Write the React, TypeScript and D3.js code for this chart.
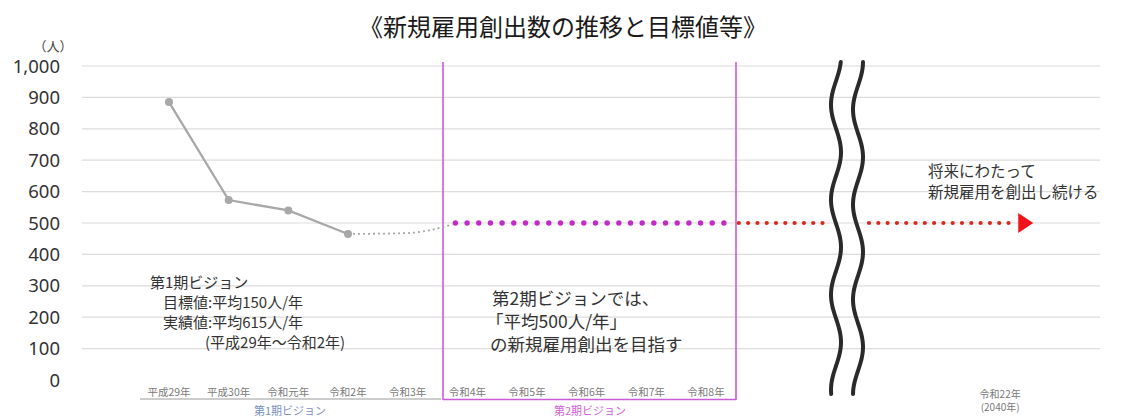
import React, { useEffect, useRef } from 'react';
import * as d3 from 'd3';

const categories = ['平成29年', '平成30年', '令和元年', '令和2年', '令和3年', '令和4年', '令和5年', '令和6年', '令和7年', '令和8年'];
const actualValues = [885, 573, 540, 465];
// gray dotted bridge from last actual towards target (index, value)
const bridgeIdx = [3, 4, 4.75];
const bridgeValues = [465, 468, 495];
const targetValue = 500;
const targetRange = [4.8, 9.3];
const futureRange = [9.55, 14.2];
const futureLabel = ['令和22年', '(2040年)'];
const futureIdx = 13.93;
const yTicks = [0, 100, 200, 300, 400, 500, 600, 700, 800, 900, 1000];
const phase1Notes = ['第1期ビジョン', '目標値:平均150人/年', '実績値:平均615人/年', '(平成29年～令和2年)'];
const phase2Notes = ['第2期ビジョンでは、', '「平均500人/年」', 'の新規雇用創出を目指す'];
const futureNotes = ['将来にわたって', '新規雇用を創出し続ける'];

const W = 1125;
const H = 420;
const JP = '"Noto Sans CJK JP", "Noto Sans", sans-serif';

export default function App() {
  const ref = useRef<SVGSVGElement>(null);

  useEffect(() => {
    document.body.style.margin = '0';
    if (!ref.current) return;
    const svg = d3.select(ref.current);
    svg.selectAll('*').remove();

    const x = d3.scaleLinear().domain([0, 9]).range([169, 706]);
    const y = d3.scaleLinear().domain([0, 1000]).range([380, 66]);
    const gridL = 82;
    const gridR = 1100;

    // title
    svg.append('text').attr('x', 563).attr('y', 36).attr('text-anchor', 'middle')
      .attr('font-family', JP).attr('font-size', 24).attr('fill', '#1a1a1a')
      .text('《新規雇用創出数の推移と目標値等》');

    // gridlines
    svg.append('g').selectAll('line').data(yTicks.filter(d => d > 0)).join('line')
      .attr('x1', gridL).attr('x2', gridR)
      .attr('y1', d => y(d)).attr('y2', d => y(d))
      .attr('stroke', '#dcdcdc').attr('stroke-width', 1.2);

    // y tick labels
    svg.append('g').selectAll('text').data(yTicks).join('text')
      .attr('x', 60).attr('y', d => y(d) + 6.5).attr('text-anchor', 'end')
      .attr('font-family', '"Noto Sans", sans-serif').attr('font-size', 18.5).attr('fill', '#333')
      .text(d => d3.format(',')(d));

    svg.append('text').attr('x', 53).attr('y', 51).attr('text-anchor', 'middle')
      .attr('font-family', JP).attr('font-size', 13).attr('fill', '#444').text('（人）');

    // phase boundary lines
    const p2L = 443, p2R = 736;
    [p2L, p2R].forEach(px => {
      svg.append('line').attr('x1', px).attr('x2', px).attr('y1', 62).attr('y2', 400)
        .attr('stroke', '#c95bd6').attr('stroke-width', 1.6);
    });

    // category labels
    svg.append('g').selectAll('text').data(categories).join('text')
      .attr('x', (d, i) => x(i)).attr('y', 396).attr('text-anchor', 'middle')
      .attr('font-family', JP).attr('font-size', 10.5).attr('fill', '#7a7a7a')
      .text(d => d);

    // underlines
    svg.append('line').attr('x1', 140).attr('x2', p2L - 2).attr('y1', 399).attr('y2', 399)
      .attr('stroke', '#9a9a9a').attr('stroke-width', 1);
    svg.append('line').attr('x1', p2L).attr('x2', p2R).attr('y1', 399.5).attr('y2', 399.5)
      .attr('stroke', '#c95bd6').attr('stroke-width', 1.5);
    svg.append('text').attr('x', 290).attr('y', 415).attr('text-anchor', 'middle')
      .attr('font-family', JP).attr('font-size', 11).attr('fill', '#7890c0').text('第1期ビジョン');
    svg.append('text').attr('x', 590).attr('y', 415).attr('text-anchor', 'middle')
      .attr('font-family', JP).attr('font-size', 11).attr('fill', '#d060d8').text('第2期ビジョン');

    svg.append('g').selectAll('text').data(futureLabel).join('text')
      .attr('x', x(futureIdx)).attr('y', (d, i) => 398 + i * 13).attr('text-anchor', 'middle')
      .attr('font-family', JP).attr('font-size', 10).attr('fill', '#7a7a7a').text(d => d);

    // actual line
    const line = d3.line<number>().x((d, i) => x(i)).y(d => y(d));
    svg.append('path').datum(actualValues).attr('d', line)
      .attr('fill', 'none').attr('stroke', '#a8a8a8').attr('stroke-width', 2.3);
    svg.append('g').selectAll('circle').data(actualValues).join('circle')
      .attr('cx', (d, i) => x(i)).attr('cy', d => y(d)).attr('r', 4).attr('fill', '#a8a8a8');

    // bridge dotted
    const bridgeLine = d3.line<number>().x((d, i) => x(bridgeIdx[i])).y(d => y(d)).curve(d3.curveMonotoneX);
    svg.append('path').datum(bridgeValues).attr('d', bridgeLine)
      .attr('fill', 'none').attr('stroke', '#a8a8a8').attr('stroke-width', 1.8)
      .attr('stroke-dasharray', '2,3');

    // target purple dots
    const tx0 = x(targetRange[0]), tx1 = x(targetRange[1]);
    const nT = 24;
    svg.append('g').selectAll('circle').data(d3.range(nT)).join('circle')
      .attr('cx', i => tx0 + (tx1 - tx0) * i / (nT - 1)).attr('cy', y(targetValue))
      .attr('r', 2.7).attr('fill', '#c12cc8');

    // future red dots
    const fx0 = x(futureRange[0]), fx1 = x(futureRange[1]);
    const stepF = 9.3;
    const fDots = d3.range(fx0, fx1, stepF).filter(px => px < 826 || px > 866);
    svg.append('g').selectAll('circle').data(fDots).join('circle')
      .attr('cx', d => d).attr('cy', y(targetValue)).attr('r', 2.1).attr('fill', '#d42a1e');
    const ty = y(targetValue);
    svg.append('path')
      .attr('d', `M${fx1 + 2},${ty - 10} L${fx1 + 17},${ty} L${fx1 + 2},${ty + 10} Z`)
      .attr('fill', '#f0141a');

    // wavy break lines
    const wave = (cx: number, phase: number) => {
      const pts: [number, number][] = d3.range(62, 396, 2).map(py => [
        cx + 5 * Math.sin(((py - 62) / 95) * 2 * Math.PI + phase), py,
      ]);
      return d3.line().curve(d3.curveBasis)(pts) as string;
    };
    [[836, Math.PI * 0.6], [858, Math.PI * 0.5]].forEach(([cx, ph]) => {
      svg.append('path').attr('d', wave(cx, ph)).attr('fill', 'none')
        .attr('stroke', '#2a2a2a').attr('stroke-width', 4).attr('stroke-linecap', 'round');
    });

    // annotations
    const note = (lines: string[], xs: number[], y0: number, dy: number, fs: number) => {
      svg.append('g').selectAll('text').data(lines).join('text')
        .attr('x', (d, i) => xs[i]).attr('y', (d, i) => y0 + i * dy)
        .attr('font-family', JP).attr('font-size', fs).attr('fill', '#333').text(d => d);
    };
    note(phase1Notes, [150, 163, 163, 205], 288, 20, 15);
    note(phase2Notes, [492, 486, 490], 305, 23, 17.5);
    note(futureNotes, [928, 928], 177, 21, 15.5);
  }, []);

  return <svg ref={ref} width={W} height={H} style={{ display: 'block', background: '#fff' }} />;
}
